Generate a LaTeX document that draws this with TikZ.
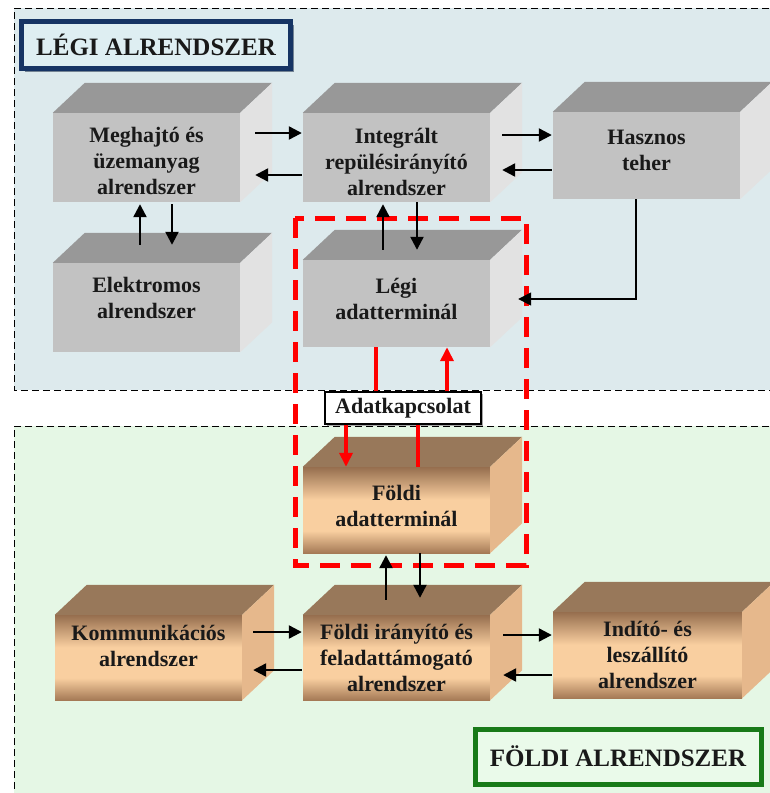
\documentclass[tikz,border=0pt]{standalone}
\usepackage{fontspec}
\setmainfont{Liberation Serif}
\usetikzlibrary{arrows.meta,shadows,calc}
\definecolor{topbg}{RGB}{221,234,237}
\definecolor{botbg}{RGB}{229,247,229}
\definecolor{gfront}{RGB}{194,194,194}
\definecolor{gtop}{RGB}{152,152,152}
\definecolor{gside}{RGB}{226,226,226}
\definecolor{btop}{RGB}{152,120,90}
\definecolor{bside}{RGB}{230,184,140}
\definecolor{bfrontD}{RGB}{150,110,78}
\definecolor{bfrontL}{RGB}{249,207,160}
\definecolor{bfrontB}{RGB}{165,122,86}
\definecolor{navy}{RGB}{22,52,100}
\definecolor{titlefill}{RGB}{222,238,242}
\definecolor{dgreen}{RGB}{24,122,24}
\definecolor{greenfill}{RGB}{234,250,234}
\definecolor{txt}{RGB}{25,25,25}
\pgfdeclareverticalshading{brownfront}{100bp}{color(0bp)=(bfrontB); color(25bp)=(bfrontB); color(38bp)=(bfrontL); color(56bp)=(bfrontL); color(75bp)=(bfrontD); color(100bp)=(bfrontD)}
\begin{document}
\begin{tikzpicture}[x=1pt,y=-1pt,
  boxlbl/.style={font=\fontsize{22}{26}\selectfont\bfseries, align=center, text=txt, inner sep=0pt},
  boxtxt/.style={inner sep=0pt, minimum width=187pt},
  gbox/.style={boxtxt, fill=gfront},
  bbox/.style={boxtxt, shading=brownfront},
  titlebox/.style={font=\fontsize{25}{29}\selectfont\bfseries, text=txt, line width=5pt, inner sep=0pt},
  arr/.style={line width=2.3pt, black, -{Triangle[length=13pt,width=13pt]}},
  rarr/.style={line width=3.5pt, red, -{Triangle[length=14pt,width=13pt]}},
  rline/.style={line width=3.5pt, red},
  regionline/.style={line width=1pt, dash pattern=on 7pt off 4pt}
]
\clip (0,0) rectangle (770,793);
% regions
\fill[white] (0,0) rectangle (770,793);
\fill[topbg] (14,8) rectangle (780,390);
\draw[regionline] (780,8) -- (14,8) -- (14,390) -- (780,390);
\fill[botbg] (14,426) rectangle (780,800);
\draw[regionline] (780,426) -- (14,426) -- (14,800);

% title boxes
\node[titlebox, draw=navy, fill=titlefill, minimum width=269pt, minimum height=47pt,
  drop shadow={shadow xshift=3pt, shadow yshift=-3pt, fill=navy!60!black}] (tl) at (156,45) {LÉGI ALRENDSZER};
\node[titlebox, draw=dgreen, fill=greenfill, minimum width=286pt, minimum height=55pt,
  drop shadow={shadow xshift=3pt, shadow yshift=-3pt, fill=dgreen!60!black}] (tf) at (618,756.5) {FÖLDI ALRENDSZER};

% boxes
\node[gbox, minimum height=89pt, label={[boxlbl, yshift=-3pt]center:{Meghajtó és\\üzemanyag\\alrendszer}}] (megh) at (146.5,157.5) {};
\node[gbox, minimum height=89pt, label={[boxlbl, yshift=-4pt]center:{Integrált\\repülésirányító\\alrendszer}}] (integ) at (396.5,157.5) {};
\node[gbox, minimum height=87pt, label={[boxlbl, yshift=5pt]center:{Hasznos\\teher}}] (hasz) at (646.5,155.5) {};
\node[gbox, minimum height=89pt, label={[boxlbl, yshift=10pt]center:{Elektromos\\alrendszer}}] (elek) at (146.5,307.5) {};
\node[gbox, minimum height=87pt, label={[boxlbl, yshift=5pt]center:{Légi\\adatterminál}}] (legi) at (396.5,303.5) {};
\node[bbox, minimum height=86pt, label={[boxlbl, yshift=4pt]center:{Földi\\adatterminál}}] (foldiad) at (396.5,510) {};
\node[bbox, minimum height=85pt, label={[boxlbl, yshift=12pt]center:{Kommunikációs\\alrendszer}}] (komm) at (148.5,657.5) {};
\node[bbox, minimum height=85pt, label={[boxlbl]center:{Földi irányító és\\feladattámogató\\alrendszer}}] (foldiir) at (396.5,657.5) {};
\node[bbox, minimum height=86pt, minimum width=189pt, label={[boxlbl]center:{Indító- és\\leszállító\\alrendszer}}] (indito) at (647.5,655) {};

\foreach \n/\tc/\sc in {megh/gtop/gside, integ/gtop/gside, hasz/gtop/gside, elek/gtop/gside, legi/gtop/gside,
  foldiad/btop/bside, komm/btop/bside, foldiir/btop/bside, indito/btop/bside}{
  \fill[\tc] (\n.north west) -- ++(32,-30) -- ($(\n.north east)+(32,-30)$) -- (\n.north east) -- cycle;
  \fill[\sc] (\n.north east) -- ++(32,-30) -- ($(\n.south east)+(32,-30)$) -- (\n.south east) -- cycle;
}

% data link box
\node[draw=black, line width=1.5pt, fill=white, minimum width=156pt, minimum height=32pt, inner sep=0pt,
  font=\fontsize{22}{26}\selectfont\bfseries, text=txt,
  drop shadow={shadow xshift=2pt, shadow yshift=-2pt, fill=black!70}] (adat) at (403,408) {Adatkapcsolat};

% red dashed frame
\draw[red, line width=5pt, dash pattern=on 20pt off 11pt] (295,218) rectangle (526,565);

% black arrows, upper part
\draw[arr] ([shift={(15,-24.5)}]megh.east) -- ([shift={(-1,-24.5)}]integ.west);
\draw[arr] ([shift={(-1,17.5)}]integ.west) -- ([shift={(15,17.5)}]megh.east);
\draw[arr] ([shift={(12,-22.5)}]integ.east) -- ([shift={(-1,-20.5)}]hasz.west);
\draw[arr] ([shift={(-1,14.5)}]hasz.west) -- ([shift={(12,12.5)}]integ.east);
\draw[arr] ([shift={(-6.5,-18)}]elek.north) -- ([shift={(-6.5,2)}]megh.south);
\draw[arr] ([shift={(25.5,2)}]megh.south) -- ([shift={(25.5,-18)}]elek.north);
\draw[arr] ([shift={(-13.5,-10)}]legi.north) -- ([shift={(-13.5,2)}]integ.south);
\draw[arr] ([shift={(20.5,0)}]integ.south) -- ([shift={(20.5,-10)}]legi.north);
\draw[arr, line width=1.6pt] ([xshift=-10.5pt]hasz.south) |- ([shift={(28,-4.5)}]legi.east);

% red data link
\draw[rline] ([xshift=-20.5pt]legi.south) -- ([xshift=-27pt]adat.north);
\draw[rarr] ([xshift=44pt]adat.north) -- ([xshift=50.5pt]legi.south);
\draw[rarr] ([xshift=-57pt]adat.south) -- ([xshift=-50.5pt]foldiad.north);
\draw[rline] ([xshift=15pt]adat.south) -- ([xshift=21.5pt]foldiad.north);

% black arrows, lower part
\draw[arr] ([shift={(-10.5,-15)}]foldiir.north) -- ([shift={(-10.5,2)}]foldiad.south);
\draw[arr] ([shift={(23.5,0)}]foldiad.south) -- ([shift={(23.5,-17)}]foldiir.north);
\draw[arr] ([shift={(11,-25.5)}]komm.east) -- ([shift={(-1,-25.5)}]foldiir.west);
\draw[arr] ([shift={(-1,12.5)}]foldiir.west) -- ([shift={(11,12.5)}]komm.east);
\draw[arr] ([shift={(13,-22.5)}]foldiir.east) -- ([shift={(-1,-20)}]indito.west);
\draw[arr] ([shift={(-1,20)}]indito.west) -- ([shift={(13,17.5)}]foldiir.east);
\end{tikzpicture}
\end{document}
